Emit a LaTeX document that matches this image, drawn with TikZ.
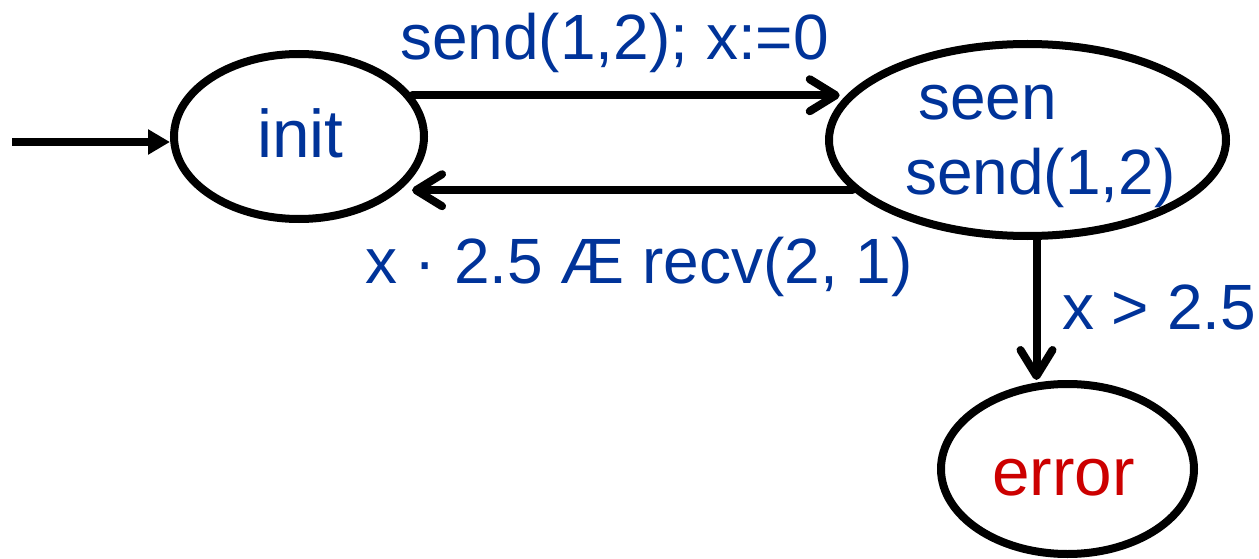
\documentclass[tikz,border=0pt]{standalone}
\usepackage{fontspec}
\setmainfont{Liberation Sans}
\usetikzlibrary{shapes.geometric,arrows.meta}
\definecolor{lblue}{RGB}{0,51,153}
\definecolor{lred}{RGB}{204,0,0}
\begin{document}
\begin{tikzpicture}[x=1pt,y=-1pt,
  state/.style={ellipse,draw=black,line width=8pt,inner sep=0pt,fill=white},
  lbl/.style={inner sep=0pt,anchor=base west,text=lblue,font=\fontsize{64}{76}\selectfont},
  sname/.style={inner sep=0pt,anchor=base west,font=\fontsize{67.5}{80}\selectfont},
  trans/.style={line width=8pt,line cap=round,-{Straight Barb[length=26pt,width=32pt,line cap=round,line join=round]}},
  initarr/.style={line width=8pt,-{Triangle[length=22pt,width=24pt]}}]
\useasboundingbox (0,0) rectangle (1259,559);
\node[state,minimum width=250pt,minimum height=165pt] (init) at (299,136.5) {};
\node[state,minimum width=397pt,minimum height=192pt] (seen) at (1027.5,140) {};
\node[state,minimum width=253pt,minimum height=170pt] (error) at (1067.5,469) {};
\node[sname,text=lblue] (tinit) at (257,158) {init};
\node[sname,text=lred] (terror) at (992,495) {error};
\node[lbl] (tseen1) at (918,120) {seen};
\node[lbl] (tseen2) at (905,195) {send(1,2)};
\coordinate (start) at (12,142);
\draw[initarr] (start) -- (start -| init.west);
\draw[trans,shorten >=7pt] (init.20.5) -- (init.20.5 -| seen.166);
\draw[trans,shorten >=12pt] (seen.196.4) -- (seen.196.4 -| init.-28.3);
\draw[trans] ([xshift=9pt]seen.south) -- ([xshift=9pt]seen.south |- error.north);
\node[lbl] (l1) at (400,60) {send(1,2); x:=0};
\node[lbl] (l2) at (365,283) {x · 2.5 Æ recv(2, 1)};
\node[lbl] (l3) at (1062,329) {x > 2.5};
\end{tikzpicture}
\end{document}
